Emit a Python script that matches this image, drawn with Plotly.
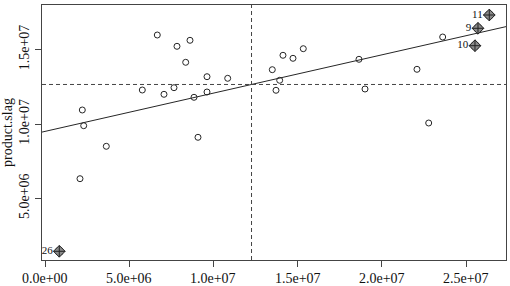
import numpy as np
import plotly.graph_objects as go

# regular observations (x = predictor, y = product.slag)
x_vals = [2.078e6, 2.215e6, 2.298e6, 3.640e6, 5.778e6, 6.668e6, 7.066e6, 7.660e6,
          7.838e6, 8.355e6, 8.610e6, 8.848e6, 9.085e6, 9.620e6, 9.620e6, 10.849e6,
          13.497e6, 13.717e6, 13.936e6, 14.132e6, 14.726e6, 15.338e6, 18.645e6,
          19.002e6, 22.089e6, 22.784e6, 23.615e6]
y_vals = [6.324e6, 10.941e6, 9.886e6, 8.501e6, 12.285e6, 15.981e6, 11.996e6, 12.439e6,
          15.221e6, 14.146e6, 15.625e6, 11.794e6, 9.106e6, 13.179e6, 12.150e6, 13.071e6,
          13.649e6, 12.265e6, 12.937e6, 14.617e6, 14.415e6, 15.060e6, 14.348e6,
          12.352e6, 13.676e6, 10.067e6, 15.846e6]

# labelled (influential) observations
lab_names = ["11", "9", "10", "26"]
lab_x = [26.383e6, 25.712e6, 25.533e6, 0.849e6]
lab_y = [17.325e6, 16.431e6, 15.262e6, 1.445e6]

x_ticks = [0, 5e6, 10e6, 15e6, 20e6, 25e6]
x_ticktext = ["0.0e+00", "5.0e+06", "1.0e+07", "1.5e+07", "2.0e+07", "2.5e+07"]
y_ticks = [5e6, 10e6, 15e6]
y_ticktext = ["5.0e+06", "1.0e+07", "1.5e+07"]

x_range = [-0.178e6, 27.375e6]
y_range = [0.86e6, 17.997e6]

all_x = np.array(x_vals + lab_x)
all_y = np.array(y_vals + lab_y)
slope, intercept = np.polyfit(all_x, all_y, 1)
mx, my = all_x.mean(), all_y.mean()

ink = "#262626"
font = "Liberation Serif, Times New Roman, serif"

fig = go.Figure()
fig.add_trace(go.Scatter(
    x=x_range, y=[intercept + slope * v for v in x_range], mode="lines",
    line=dict(color=ink, width=1), hoverinfo="skip", showlegend=False))
fig.add_trace(go.Scatter(
    x=x_vals, y=y_vals, mode="markers",
    marker=dict(symbol="circle-open", size=6, color=ink, line=dict(width=1, color=ink)),
    showlegend=False))
fig.add_trace(go.Scatter(
    x=lab_x, y=lab_y, mode="markers",
    marker=dict(symbol="circle-open", size=8, color="#333", line=dict(width=1, color="#333")),
    hoverinfo="skip", showlegend=False))
fig.add_trace(go.Scatter(
    x=lab_x, y=lab_y, mode="markers+text", text=lab_names, textposition="middle left",
    textfont=dict(family=font, size=11, color="#111"),
    marker=dict(symbol="diamond-cross", size=9, color="#8a8a8a", line=dict(width=1, color="#222")),
    showlegend=False))

fig.add_shape(type="line", xref="x", yref="paper", x0=mx, x1=mx, y0=0, y1=1,
              line=dict(color="#444", width=1, dash="4px,3px"))
fig.add_shape(type="line", xref="paper", yref="y", x0=0, x1=1, y0=my, y1=my,
              line=dict(color="#444", width=1, dash="4px,3px"))

# x tick labels as annotations (placed close under the ticks)
for v, t in zip(x_ticks, x_ticktext):
    fig.add_annotation(x=v, xref="x", y=0, yref="paper", text=t, showarrow=False,
                       yanchor="top", xanchor="center", yshift=-10, borderpad=0,
                       font=dict(family=font, size=14, color="#111"))

fig.update_layout(
    width=510, height=286,
    margin=dict(l=42, r=4, t=5, b=26),
    paper_bgcolor="white", plot_bgcolor="white",
    font=dict(family=font, size=14, color="#111"),
)
fig.update_xaxes(range=x_range, tickvals=x_ticks, showticklabels=False,
                 showgrid=False, zeroline=False, showline=True, mirror=True,
                 linecolor="#444", linewidth=1, ticks="outside", ticklen=6,
                 tickcolor="#444")
fig.update_yaxes(range=y_range, tickvals=y_ticks, ticktext=y_ticktext, tickangle=-90,
                 showgrid=False, zeroline=False, showline=True, mirror=True,
                 linecolor="#444", linewidth=1, ticks="outside", ticklen=6,
                 tickcolor="#444", tickfont=dict(size=14),
                 title=dict(text="product.slag", font=dict(size=14), standoff=4))

fig.write_html("out.html", config={"displayModeBar": False},
               post_script="document.body.style.margin='0';")
